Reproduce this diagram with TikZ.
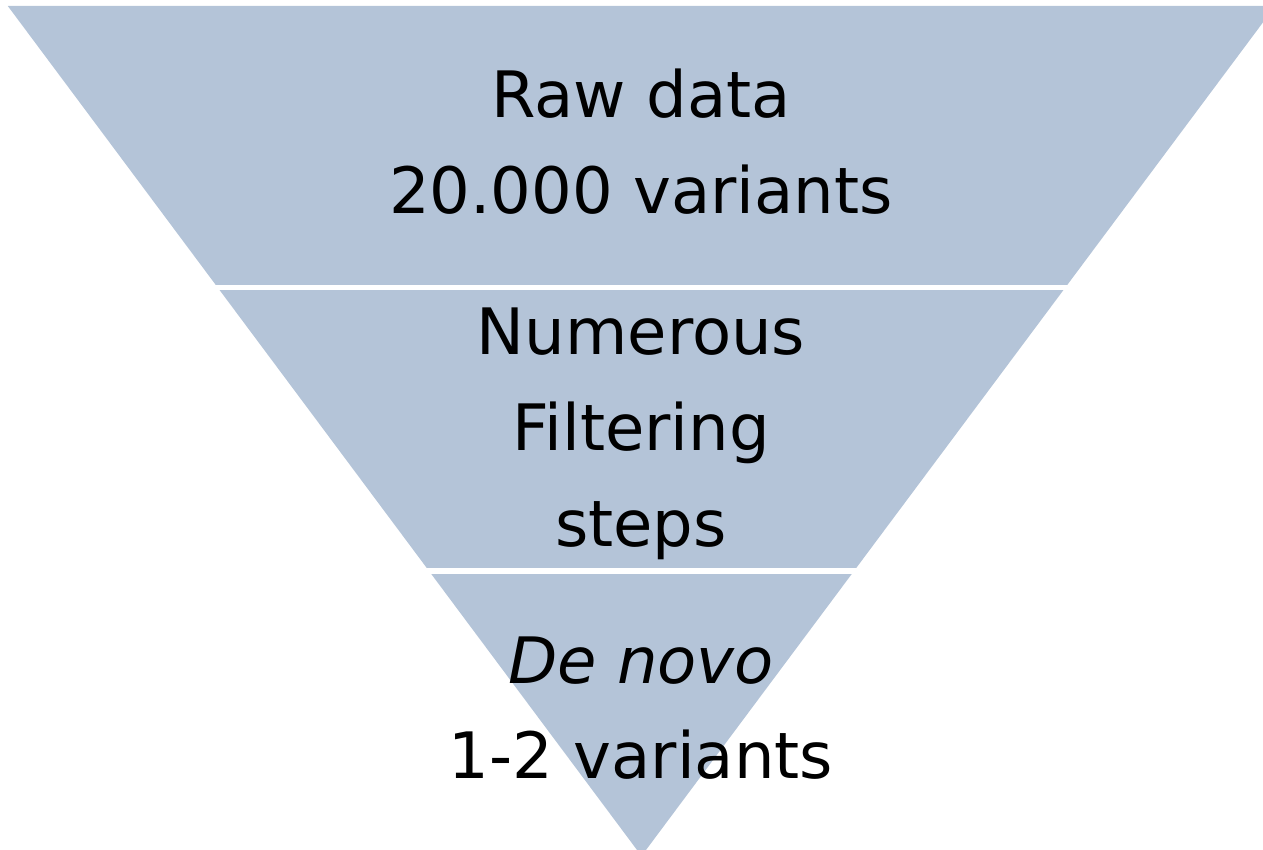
\documentclass[tikz,border=0pt]{standalone}
\usepackage{fontspec}
\setmainfont{DejaVu Sans}
\definecolor{funnel}{RGB}{180,196,216}
\begin{document}
\begin{tikzpicture}[x=1pt,y=-1pt,
  band/.style={fill=funnel,draw=none},
  gap/.style={fill=white,draw=none},
  lbl/.style={anchor=base,inner sep=0pt,font=\fontsize{64}{77}\selectfont,text=black}]
\useasboundingbox (0,0) rectangle (1263,850);
\begin{scope}
\clip (0,0) rectangle (1263,850);
% whole funnel
\fill[band] (7.8,6) -- (1275.2,6) -- (641.5,856) -- cycle;
% white separators between the three stages
\fill[gap] (0,285) rectangle (1263,290);
\fill[gap] (0,568) rectangle (1263,574);
\end{scope}
% stage labels
\node[lbl] (raw)   at (641,118) {Raw data};
\node[lbl] (rawn)  at (641,214) {20.000 variants};
\node[lbl] (num)   at (641,354) {Numerous};
\node[lbl] (filt)  at (641,450) {Filtering};
\node[lbl] (steps) at (641,546) {steps};
\node[lbl] (dn)    at (641,683) {\itshape De novo};
\node[lbl] (dnn)   at (641,778) {1-2 variants};
\end{tikzpicture}
\end{document}
